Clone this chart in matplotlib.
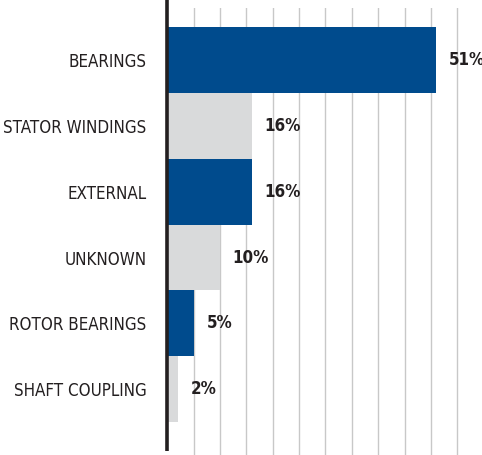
import matplotlib
matplotlib.use("Agg")
import matplotlib.pyplot as plt
from matplotlib import font_manager

categories = ["BEARINGS", "STATOR WINDINGS", "EXTERNAL", "UNKNOWN", "ROTOR BEARINGS", "SHAFT COUPLING"]
values = [51, 16, 16, 10, 5, 2]
colors = ["#004B8D", "#D9DADB", "#004B8D", "#D9DADB", "#004B8D", "#D9DADB"]
value_labels = ["51%", "16%", "16%", "10%", "5%", "2%"]

# pick a condensed font if one is installed
fonts = font_manager.fontManager.ttflist
font_props = dict(fontfamily="Liberation Sans")
narrow = [f for f in fonts if "narrow" in f.fname.lower() and "liberation" in f.fname.lower()]
cond = [f for f in fonts if "dejavusanscondensed" in f.fname.lower().replace("-", "")]
if narrow:
    font_props = dict(fontfamily=narrow[0].name, fontstretch=narrow[0].stretch)
elif cond:
    font_props = dict(fontfamily="DejaVu Sans", fontstretch="condensed")

W, H = 482, 455
fig = plt.figure(figsize=(W / 100, H / 100), dpi=100)
x0 = 167.3
left = x0 / W
top_px, bot_px = 8, 455
ax = fig.add_axes([left, 1 - bot_px / H, 1 - left, (bot_px - top_px) / H])

y = list(range(len(categories)))
ax.barh(y, values, height=1.0, color=colors, zorder=2)
ax.set_xlim(0, (W - x0) / 5.272)
ax.set_ylim(len(categories) - 0.5 + 0.5, -0.5 - 0.29)
ax.set_xticks([5 * i for i in range(1, 12)])
ax.set_xticklabels([])
ax.grid(axis="x", color="#C8C8C8", linewidth=1.0, zorder=0)
ax.tick_params(length=0)
ax.set_yticks(y)
ax.tick_params(axis="y", pad=15)
for s in ax.spines.values():
    s.set_visible(False)

# fit label size so "STATOR WINDINGS" is ~143 px wide
renderer = fig.canvas.get_renderer()
probe = fig.text(0, 0, "STATOR WINDINGS", fontsize=14, **font_props)
w = probe.get_window_extent(renderer).width
probe.remove()
size = min(15.5, 14 * 144 / w)
ax.set_yticklabels(categories, fontsize=size, color="#231F20", **font_props)

# axis line
h_ax = bot_px - top_px
ax.plot([0, 0], [(bot_px - 451) / h_ax, (bot_px - 0) / h_ax], color="#231F20", linewidth=2.6,
        transform=ax.get_xaxis_transform(), clip_on=False, zorder=5, solid_capstyle="butt")

for i, (v, lab) in enumerate(zip(values, value_labels)):
    ax.text(v + 2.4, i, lab, va="center", ha="left", fontsize=size, fontweight="bold",
            color="#231F20", **font_props)

fig.savefig("out.png", dpi=100)
